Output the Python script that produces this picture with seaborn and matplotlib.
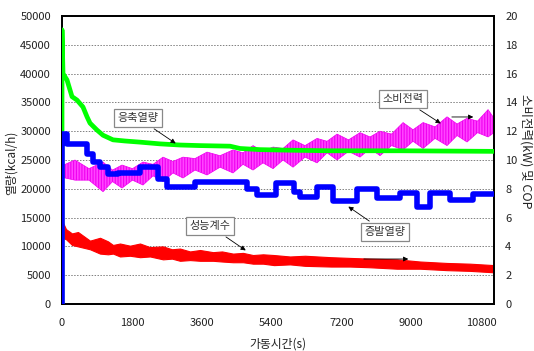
import matplotlib
matplotlib.use("Agg")
import matplotlib.pyplot as plt
import seaborn as sns
import pandas as pd

# ---------------- data ----------------
# condensing heat (left axis, kcal/h)
cond_t = [0, 0, 26, 129, 258, 387, 541, 645, 722, 902, 1057, 1315, 1624, 2011,
          2526, 3042, 3558, 4331, 4589, 5104, 5878, 6909, 8714, 11135]
cond_v = [0, 47600, 40000, 38900, 36000, 35400, 34200, 32500, 31400, 30200, 29300,
          28500, 28300, 28100, 27800, 27600, 27500, 27400, 27000, 26800, 26700,
          26600, 26600, 26500]

# evaporating heat (left axis, kcal/h) - step-like
evap_t = [0, 0, 129, 645, 799, 980, 1186, 1444, 2011, 2475, 2707, 3429, 4769,
          5027, 5517, 5981, 6136, 6574, 6986, 7605, 8121, 8714, 9152, 9487,
          10003, 10596, 11135]
evap_v = [0, 29500, 27700, 26000, 24600, 23700, 22500, 22800, 23700, 21700, 20300,
          21100, 20000, 19000, 21000, 19500, 18500, 20300, 17800, 20000, 18400,
          19200, 16800, 19200, 18000, 19100, 19100]

# power consumption (right axis, kW) - oscillating band envelope
pow_t = [0, 335, 696, 1057, 1302, 1547, 1817, 2088, 2346, 2604, 2861, 3119, 3428,
         3738, 4073, 4408, 4666, 4924, 5182, 5440, 5697, 5955, 6264, 6574, 6832,
         7090, 7386, 7682, 7940, 8198, 8494, 8791, 9049, 9307, 9616, 9925, 10183,
         10441, 10711, 10982, 11135]
pow_hi = [9.6, 10.0, 9.4, 9.86, 9.3, 9.65, 9.4, 9.86, 9.7, 10.2, 9.9, 10.2, 10.1,
          10.55, 10.3, 10.7, 10.5, 11.0, 10.6, 10.9, 10.8, 11.4, 11.0, 11.5, 11.3,
          11.8, 11.4, 11.9, 11.6, 12.0, 11.8, 12.6, 12.1, 12.6, 12.3, 13.0, 12.5,
          12.9, 12.7, 13.5, 12.9]
pow_lo = [8.8, 8.6, 8.6, 7.8, 8.5, 8.05, 8.6, 8.26, 8.9, 8.5, 9.1, 8.75, 9.3,
          8.96, 9.5, 9.1, 9.7, 9.3, 9.8, 9.4, 10.0, 9.5, 10.2, 9.8, 10.5, 10.0,
          10.6, 10.2, 10.8, 10.3, 11.0, 10.7, 11.3, 10.8, 11.5, 11.0, 11.7, 11.25,
          11.9, 11.6, 11.9]

# COP (right axis) - band envelope
cop_t = [0, 0, 103, 258, 412, 567, 722, 980, 1186, 1315, 1495, 1753, 2011, 2269,
         2604, 2836, 3042, 3300, 3558, 3893, 4125, 4408, 4666, 4924, 5182, 5465,
         5878, 6264, 6935, 7425, 7940, 8636, 9229, 9925, 10518, 11135]
cop_hi = [0, 5.8, 5.2, 4.9, 5.0, 4.7, 4.4, 4.6, 4.35, 4.1, 4.2, 4.05, 4.2, 3.95,
          4.0, 3.8, 3.85, 3.65, 3.75, 3.6, 3.65, 3.5, 3.55, 3.4, 3.45, 3.4, 3.3,
          3.35, 3.25, 3.2, 3.15, 3.1, 2.95, 2.85, 2.8, 2.7]
cop_lo = [0, 4.6, 4.5, 4.1, 4.0, 3.9, 3.8, 3.5, 3.45, 3.5, 3.3, 3.35, 3.25, 3.3,
          3.1, 3.15, 3.0, 3.05, 3.0, 3.0, 2.95, 2.9, 2.9, 2.8, 2.8, 2.7, 2.75,
          2.65, 2.6, 2.6, 2.55, 2.45, 2.45, 2.35, 2.3, 2.2]

x_ticks = [0, 1800, 3600, 5400, 7200, 9000, 10800]
left_ticks = list(range(0, 50001, 5000))
right_ticks = list(range(0, 21, 2))

# ---------------- style ----------------
sns.set_theme(style="white")
plt.rcParams["font.family"] = ["Noto Sans CJK KR", "DejaVu Sans"]
plt.rcParams["hatch.linewidth"] = 0.8

fig = plt.figure(figsize=(5.34, 3.51), dpi=100)
ax = fig.add_axes([62 / 534, 1 - 304 / 351, 432 / 534, 288 / 351])
ax2 = ax.twinx()
ax.set_zorder(ax2.get_zorder() + 1)
ax.patch.set_visible(False)
ax2.patch.set_facecolor("white")

# right-axis series (drawn below left-axis series)
ax2.fill_between(pow_t, pow_lo, pow_hi, facecolor="#ff44ff", edgecolor="#f000f0",
                 hatch="||||||", lw=0.5, zorder=2)
ax2.fill_between(cop_t, cop_lo, cop_hi, color="#ff0000", lw=0.8, zorder=2)

# left-axis series
df_c = pd.DataFrame({"t": cond_t, "v": cond_v})
df_e = pd.DataFrame({"t": evap_t, "v": evap_v})
sns.lineplot(data=df_c, x="t", y="v", ax=ax, color="#00ff00", lw=3.4,
             sort=False, estimator=None, zorder=3)
sns.lineplot(data=df_e, x="t", y="v", ax=ax, color="#0000ff", lw=4.0,
             sort=False, estimator=None, drawstyle="steps-post", zorder=3)

ax.set_xlim(0, 11135)
ax.set_ylim(0, 50000)
ax2.set_ylim(0, 20)
ax.set_xticks(x_ticks)
ax.set_yticks(left_ticks)
ax2.set_yticks(right_ticks)

ax2.grid(axis="y", color="#808080", ls=(0, (1.5, 1.5)), lw=0.7)
ax.grid(False)

ax.tick_params(axis="x", direction="in", length=4, width=0.8, colors="black",
               labelsize=8, pad=10, labelcolor="#222222")
ax.tick_params(axis="y", length=0, labelsize=8, pad=8, labelcolor="#222222")
ax2.tick_params(axis="y", length=0, labelsize=8, pad=8, labelcolor="#222222")

for a in (ax, ax2):
    for s in a.spines.values():
        s.set_color("black")
        s.set_linewidth(1.3)

ax.set_xlabel("가동시간(s)", fontsize=8.5, color="#222222", va="center")
ax.xaxis.set_label_coords(0.5, -0.139)
ax.set_ylabel("열량(kcal/h)", fontsize=8.5, color="#222222", va="center")
ax.yaxis.set_label_coords(-0.117, 0.49)
ax2.set_ylabel("소비전력(kW) 및 COP", fontsize=9, rotation=270, va="center",
               ha="center", color="#222222")
ax2.yaxis.set_label_coords(1.074, 0.53)

box = dict(boxstyle="square,pad=0.35", fc="white", ec="#888888", lw=0.9)
arr = dict(arrowstyle="-|>", color="black", lw=0.6, mutation_scale=7)
txt = dict(fontsize=8, color="#333333", ha="center", va="center", bbox=box)

ax.annotate("응축열량", xy=(2990, 27600), xytext=(1959, 32300), arrowprops=arr, **txt)
ax.annotate("소비전력", xy=(9822, 31080), xytext=(8790, 35590), arrowprops=arr, **txt)
ax.annotate("성능계수", xy=(4795, 9030), xytext=(3815, 13540), arrowprops=arr, **txt)
ax.annotate("증발열량", xy=(7321, 17190), xytext=(8327, 12500), arrowprops=arr, **txt)
ax.annotate("", xy=(10673, 32470), xytext=(9977, 32470), arrowprops=arr)
ax.annotate("", xy=(8997, 7810), xytext=(7708, 7810), arrowprops=arr)

fig.savefig("out.png", dpi=100)
